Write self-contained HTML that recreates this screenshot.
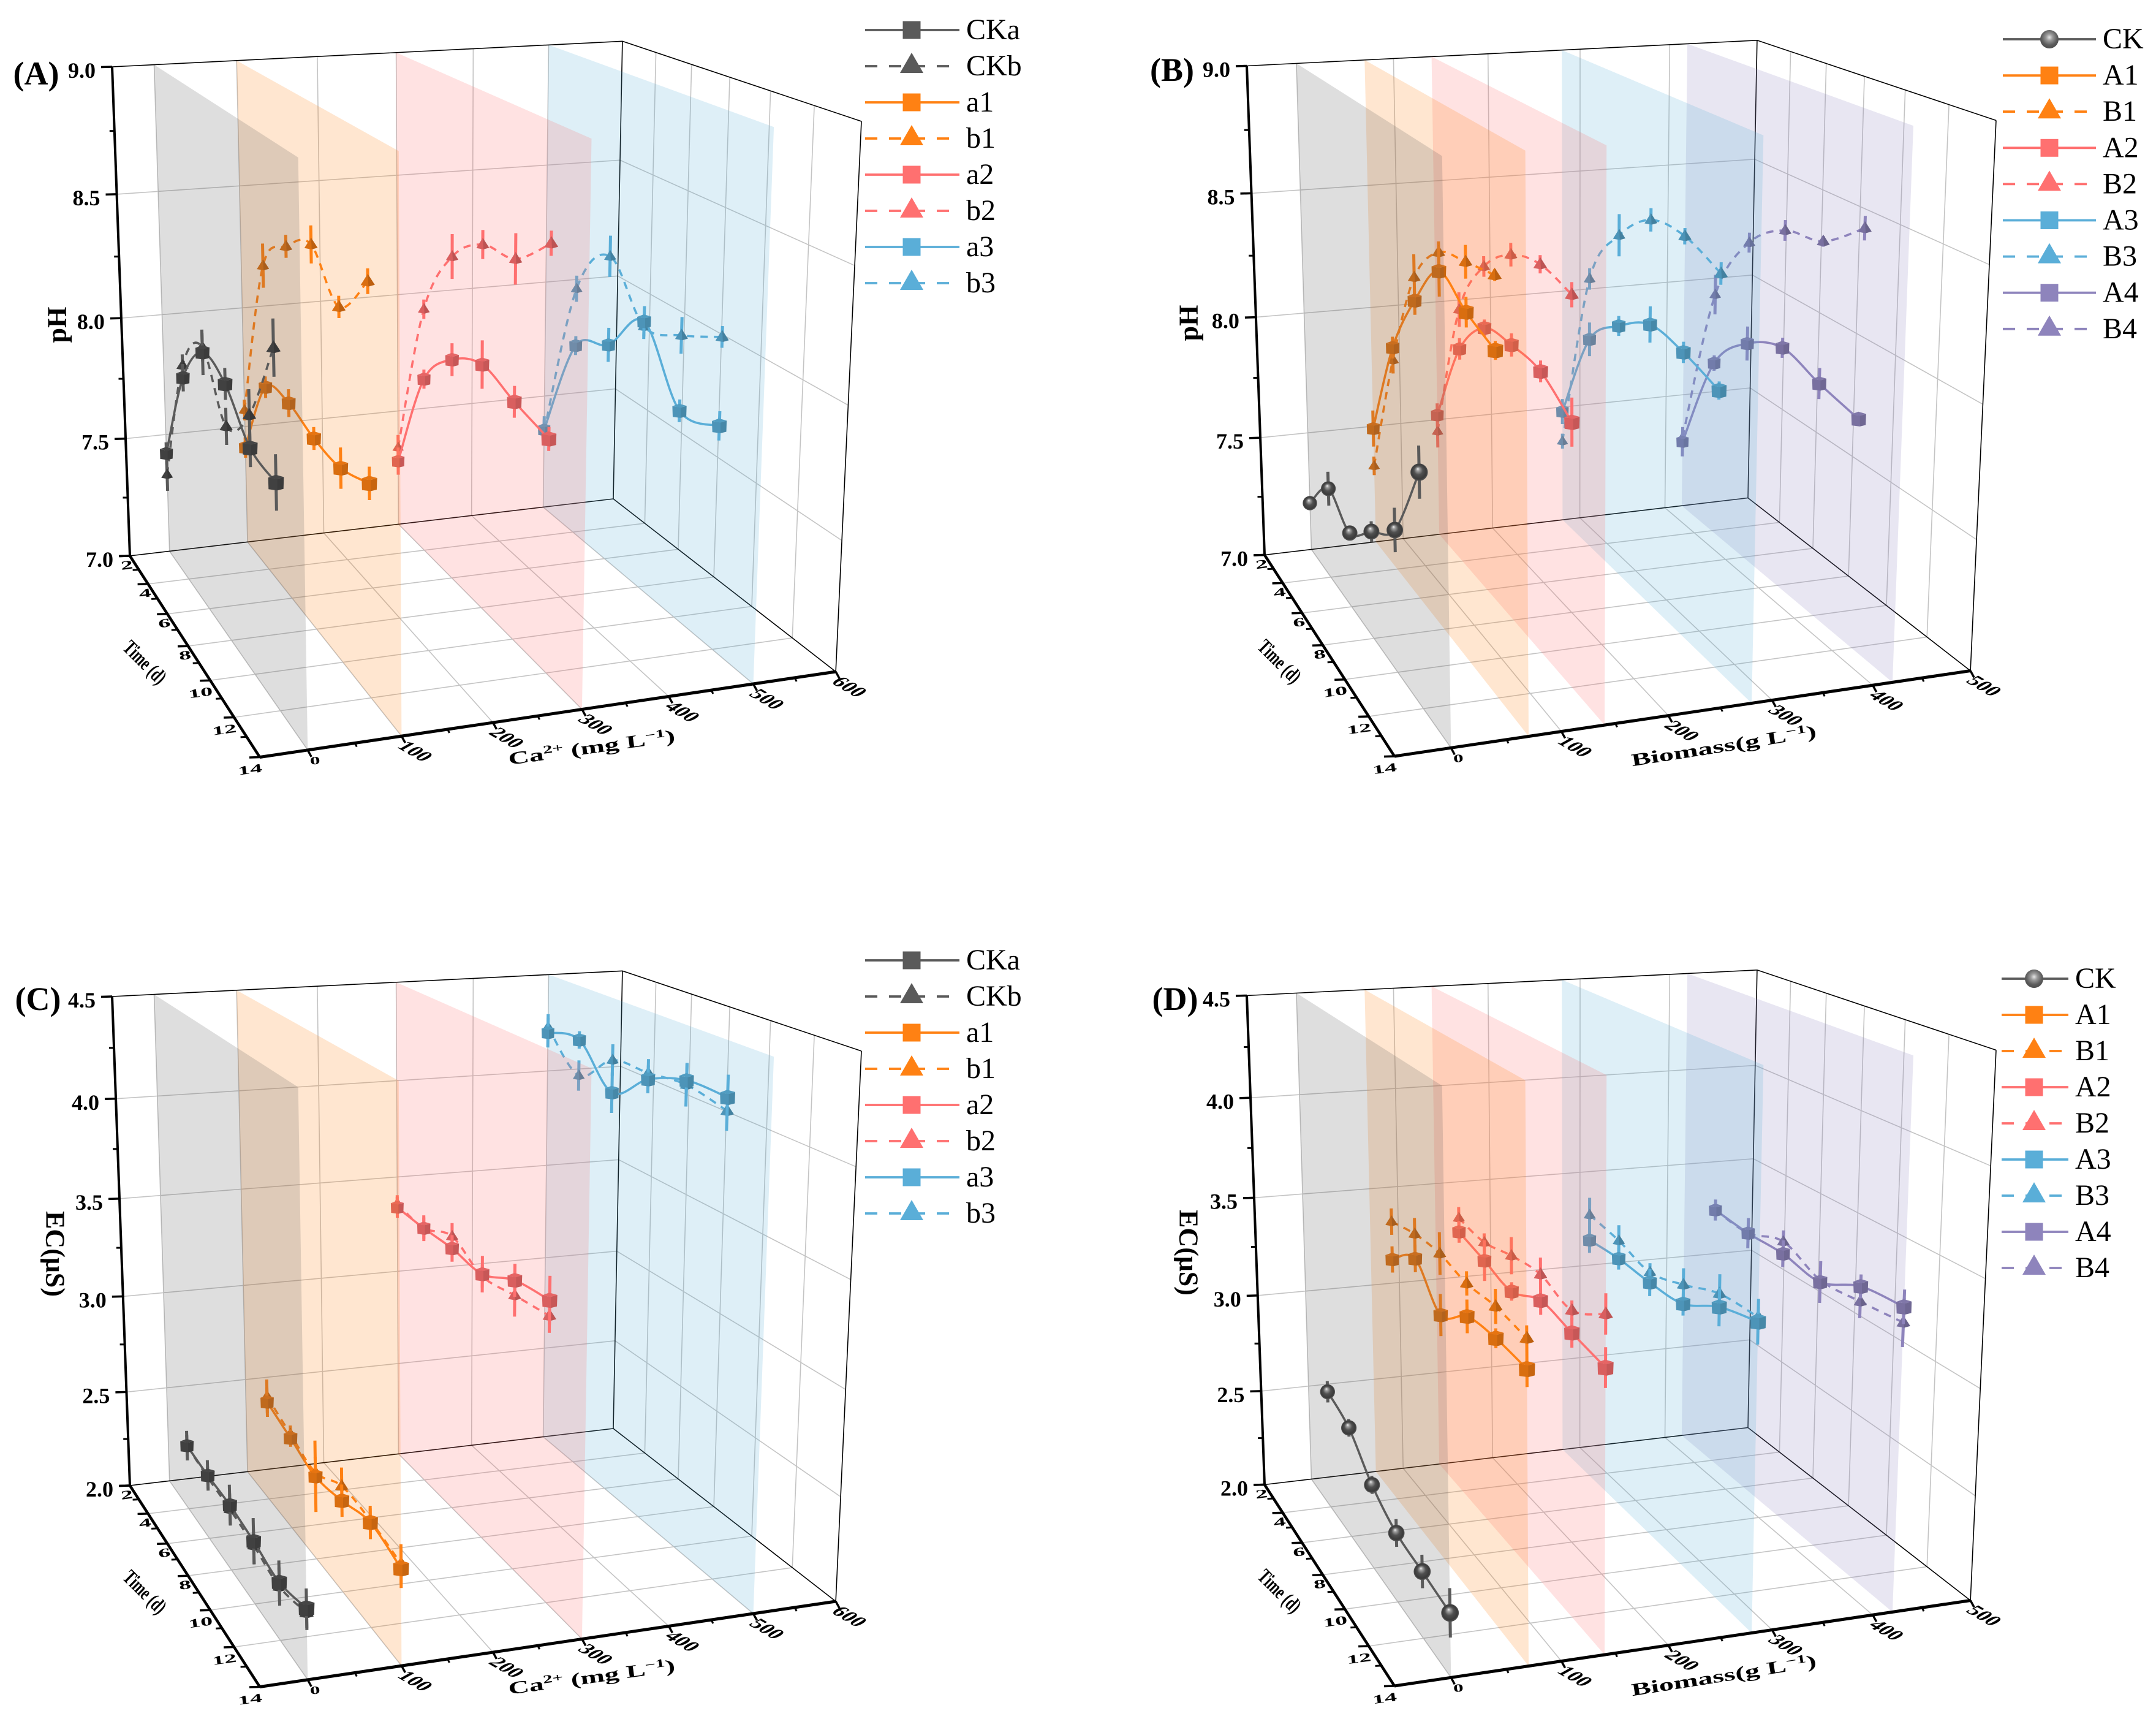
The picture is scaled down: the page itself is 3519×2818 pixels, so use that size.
<!DOCTYPE html>
<html lang="en">
<head>
<meta charset="utf-8">
<title>pH and EC 3D charts</title>
<style>
html,body{margin:0;padding:0;background:#fff;}
svg{display:block;font-family:"Liberation Serif",serif;}
</style>
</head>
<body>
<svg id="figure" xmlns="http://www.w3.org/2000/svg" width="3519" height="2818" viewBox="0 0 3519 2818">
<defs>
<radialGradient id="sphere" cx="0.5" cy="0.5" r="0.5" fx="0.42" fy="0.3">
<stop offset="0" stop-color="#f4f4f4"/><stop offset="0.18" stop-color="#a2a2a2"/><stop offset="0.5" stop-color="#505050"/><stop offset="0.85" stop-color="#3a3a3a"/><stop offset="1" stop-color="#565656"/>
</radialGradient>
<radialGradient id="sphere-legend" cx="0.5" cy="0.4" r="0.6">
<stop offset="0" stop-color="#e6e6e6"/><stop offset="0.3" stop-color="#9a9a9a"/><stop offset="0.7" stop-color="#5e5e5e"/><stop offset="1" stop-color="#4c4c4c"/>
</radialGradient>
</defs>
</svg>
<script>
// ---------- axis ticks and categories ----------
const timesPH = [2, 4, 6, 8, 10, 12];
const timesEC = [4, 6, 8, 10, 12, 14];
const timeTicks = [2, 4, 6, 8, 10, 12, 14];
const caTicks = [0, 100, 200, 300, 400, 500, 600];
const bioTicks = [0, 100, 200, 300, 400, 500];
const phTicks = [7.0, 7.5, 8.0, 8.5, 9.0];
const ecTicks = [2.0, 2.5, 3.0, 3.5, 4.0, 4.5];

// ---------- panel A: pH against Ca2+ ----------
const aCKa = [7.42, 7.83, 8.02, 7.99, 7.85, 7.83];
const aCKaErr = [0.047, 0.055, 0.088, 0.06, 0.07, 0.10];
const aCKb = [7.33, 7.88, 8.04, 7.83, 7.97, 8.30];
const aCKbErr = [0.07, 0.044, 0.055, 0.07, 0.094, 0.10];
const a_a1 = [7.41, 7.76, 7.79, 7.75, 7.74, 7.79];
const a_a1Err = [0.044, 0.044, 0.055, 0.044, 0.077, 0.06];
const a_b1 = [7.57, 8.25, 8.40, 8.48, 8.33, 8.50];
const a_b1Err = [0.044, 0.088, 0.044, 0.07, 0.04, 0.044];
const a_a2 = [7.28, 7.73, 7.90, 7.97, 7.92, 7.88];
const a_a2Err = [0.06, 0.04, 0.066, 0.094, 0.06, 0.044];
const a_b2 = [7.34, 8.02, 8.31, 8.43, 8.45, 8.58];
const a_b2Err = [0.055, 0.04, 0.088, 0.055, 0.094, 0.044];
const a_a3 = [7.35, 7.81, 7.90, 8.08, 7.82, 7.86];
const a_a3Err = [0.06, 0.04, 0.07, 0.06, 0.044, 0.055];
const a_b3 = [7.34, 8.05, 8.26, 8.06, 8.11, 8.19];
const a_b3Err = [0.055, 0.055, 0.083, 0.05, 0.07, 0.04];

// ---------- panel B: pH against biomass ----------
const bCK = [7.20, 7.37, 7.30, 7.42, 7.54, 7.86];
const bCKErr = [0.03, 0.07, 0.02, 0.04, 0.083, 0.094];
const bA1 = [7.49, 7.92, 8.19, 8.38, 8.31, 8.26];
const bA1Err = [0.077, 0.044, 0.055, 0.094, 0.055, 0.033];
const bB1 = [7.33, 7.87, 8.28, 8.45, 8.49, 8.52];
const bB1Err = [0.04, 0.055, 0.088, 0.04, 0.06, 0.02];
const bA2 = [7.52, 7.89, 8.06, 8.08, 8.07, 7.98];
const bA2Err = [0.05, 0.044, 0.033, 0.044, 0.04, 0.088];
const bB2 = [7.45, 8.05, 8.30, 8.42, 8.46, 8.43];
const bB2Err = [0.07, 0.07, 0.04, 0.044, 0.033, 0.044];
const bA3 = [7.48, 7.88, 8.02, 8.11, 8.09, 8.04];
const bA3Err = [0.055, 0.07, 0.04, 0.07, 0.04, 0.033];
const bB3 = [7.35, 8.13, 8.38, 8.51, 8.52, 8.46];
const bB3Err = [0.033, 0.044, 0.083, 0.044, 0.03, 0.04];
const bA4 = [7.29, 7.73, 7.90, 7.97, 7.92, 7.88];
const bA4Err = [0.066, 0.033, 0.07, 0.04, 0.06, 0.02];
const bB4 = [7.31, 8.02, 8.31, 8.43, 8.46, 8.58];
const bB4Err = [0.02, 0.083, 0.04, 0.04, 0.02, 0.044];

// ---------- panel C: EC against Ca2+ ----------
const cCKa = [2.33, 2.32, 2.32, 2.30, 2.27, 2.32];
const cCKaErr = [0.077, 0.077, 0.10, 0.11, 0.10, 0.088];
const cCKb = [2.33, 2.31, 2.30, 2.28, 2.25, 2.30];
const cCKbErr = [0.055, 0.055, 0.077, 0.088, 0.088, 0.077];
const c_a1 = [2.51, 2.46, 2.41, 2.44, 2.49, 2.44];
const c_a1Err = [0.077, 0.044, 0.176, 0.077, 0.077, 0.088];
const c_b1 = [2.54, 2.48, 2.43, 2.51, 2.50, 2.46];
const c_b1Err = [0.088, 0.044, 0.077, 0.088, 0.055, 0.088];
const c_a2 = [3.34, 3.33, 3.33, 3.31, 3.39, 3.41];
const c_a2Err = [0.055, 0.066, 0.066, 0.088, 0.077, 0.11];
const c_b2 = [3.36, 3.33, 3.39, 3.30, 3.32, 3.34];
const c_b2Err = [0.044, 0.055, 0.066, 0.055, 0.10, 0.077];
const c_a3 = [4.20, 4.23, 4.04, 4.18, 4.25, 4.25];
const c_a3Err = [0.077, 0.044, 0.10, 0.066, 0.077, 0.10];
const c_b3 = [4.23, 4.05, 4.20, 4.21, 4.23, 4.19];
const c_b3Err = [0.066, 0.077, 0.077, 0.066, 0.10, 0.088];

// ---------- panel D: EC against biomass ----------
const dCK = [2.60, 2.55, 2.41, 2.33, 2.31, 2.29];
const dCKErr = [0.055, 0.044, 0.044, 0.066, 0.077, 0.11];
const dA1 = [3.24, 3.35, 3.19, 3.30, 3.32, 3.31];
const dA1Err = [0.066, 0.066, 0.10, 0.077, 0.044, 0.077];
const dB1 = [3.43, 3.47, 3.48, 3.45, 3.46, 3.44];
const dB1Err = [0.066, 0.077, 0.10, 0.055, 0.077, 0.055];
const dA2 = [3.35, 3.31, 3.27, 3.34, 3.31, 3.28];
const dA2Err = [0.055, 0.10, 0.044, 0.066, 0.066, 0.088];
const dB2 = [3.42, 3.40, 3.44, 3.46, 3.41, 3.51];
const dB2Err = [0.055, 0.044, 0.088, 0.077, 0.044, 0.088];
const dA3 = [3.25, 3.26, 3.25, 3.26, 3.36, 3.41];
const dA3Err = [0.066, 0.055, 0.066, 0.055, 0.088, 0.10];
const dB3 = [3.38, 3.35, 3.30, 3.35, 3.42, 3.43];
const dB3Err = [0.088, 0.077, 0.044, 0.077, 0.088, 0.044];
const dA4 = [3.35, 3.33, 3.33, 3.30, 3.39, 3.41];
const dA4Err = [0.055, 0.077, 0.066, 0.10, 0.055, 0.077];
const dB4 = [3.35, 3.33, 3.39, 3.31, 3.32, 3.34];
const dB4Err = [0.033, 0.044, 0.055, 0.044, 0.077, 0.11];

// ---------- plane levels ----------
const caPlanes = [500, 300, 100, 0];
const bioPlanes = [420, 280, 140, 70, 0];

const GRAY = '#5a5a5a', ORANGE = '#ff8113', PINK = '#ff7070', BLUE = '#5aaed8', PURPLE = '#8e84bc';
const NS = 'http://www.w3.org/2000/svg';
const root = document.getElementById('figure');

function mk(parent, tag, attrs, text) {
  const e = document.createElementNS(NS, tag);
  for (const k in attrs) e.setAttribute(k, attrs[k]);
  if (text !== undefined) e.textContent = text;
  parent.appendChild(e);
  return e;
}
function shade(hex, f) {
  const n = parseInt(hex.slice(1), 16);
  const c = [(n >> 16) & 255, (n >> 8) & 255, n & 255].map(v => Math.round(v * f));
  return 'rgb(' + c.join(',') + ')';
}
function pts(list) { return list.map(p => p[0].toFixed(1) + ',' + p[1].toFixed(1)).join(' '); }

function makeProjection(dx, dy, xMin, xMax, yMin, yMax) {
  const f = function (x, t, y) {
    const u = (x - xMin) / (xMax - xMin), v = (t - 2) / 12, w = (y - yMin) / (yMax - yMin);
    const D = 1 + 0.0717 * u - 0.1884 * v - 0.054 * w;
    return [dx + (212 + 860.8 * u + 132.1 * v - 38.9 * w) / D,
            dy + (907 - 34.6 * u + 95.7 * v - 803.9 * w) / D, D];
  };
  return f;
}
function splinePath(p) {
  let d = 'M' + p[0][0].toFixed(1) + ' ' + p[0][1].toFixed(1);
  for (let i = 0; i < p.length - 1; i++) {
    const p0 = p[Math.max(i - 1, 0)], p1 = p[i], p2 = p[i + 1], p3 = p[Math.min(i + 2, p.length - 1)];
    const c1x = p1[0] + (p2[0] - p0[0]) / 6, c1y = p1[1] + (p2[1] - p0[1]) / 6;
    const c2x = p2[0] - (p3[0] - p1[0]) / 6, c2y = p2[1] - (p3[1] - p1[1]) / 6;
    d += 'C' + c1x.toFixed(1) + ' ' + c1y.toFixed(1) + ' ' + c2x.toFixed(1) + ' ' + c2y.toFixed(1) + ' ' + p2[0].toFixed(1) + ' ' + p2[1].toFixed(1);
  }
  return d;
}
function drawCube(g, c, color, D, name) {
  const h = 10.6 / D, x = c[0], y = c[1];
  const isGray = color === GRAY;
  const group = mk(g, 'g', {});
  
  
  mk(group, 'polygon', { points: pts([[x - h, y - 0.65 * h], [x + 0.15 * h, y - 0.45 * h], [x + 0.15 * h, y + h], [x - 0.95 * h, y + 0.85 * h]]), fill: shade(color, isGray ? 0.72 : 0.85) });
  mk(group, 'polygon', { points: pts([[x + 0.15 * h, y - 0.45 * h], [x + h, y - 0.7 * h], [x + 0.95 * h, y + 0.8 * h], [x + 0.15 * h, y + h]]), fill: shade(color, isGray ? 0.65 : 0.78) });
  mk(group, 'polygon', { points: pts([[x - h, y - 0.65 * h], [x - 0.05 * h, y - h], [x + h, y - 0.7 * h], [x + 0.15 * h, y - 0.45 * h]]), fill: shade(color, isGray ? 0.78 : 0.9) });
}
function drawCone(g, c, color, D, name) {
  const h = 9.5 / D, x = c[0], y = c[1];
  const isGray = color === GRAY;
  const group = mk(g, 'g', {});
  
  
  mk(group, 'polygon', { points: pts([[x, y - 1.05 * h], [x - h, y + 0.55 * h], [x + 0.1 * h, y + 0.75 * h]]), fill: shade(color, isGray ? 0.72 : 0.85) });
  mk(group, 'polygon', { points: pts([[x, y - 1.05 * h], [x + 0.1 * h, y + 0.75 * h], [x + h, y + 0.5 * h]]), fill: shade(color, isGray ? 0.6 : 0.74) });
}
function drawSphere(g, c, D, name) {
  const s = mk(g, 'circle', { cx: c[0].toFixed(1), cy: c[1].toFixed(1), r: (11.7 / D).toFixed(1), fill: 'url(#sphere)' });
  
  
}

function drawSeries(g, P, cfg, xVal, s) {
  const group = mk(g, 'g', {});
  
  
  const times = s.times || cfg.times;
  const centers = times.map((t, i) => P(xVal, t, s.vals[i]));
  // error bars
  times.forEach((t, i) => {
    const lo = P(xVal, t, s.vals[i] - s.errs[i]), hi = P(xVal, t, s.vals[i] + s.errs[i]);
    const bar = mk(group, 'line', { x1: lo[0].toFixed(1), y1: lo[1].toFixed(1), x2: hi[0].toFixed(1), y2: hi[1].toFixed(1), stroke: s.color, 'stroke-width': 5 });
    
    
  });
  // smooth line
  const line = mk(group, 'path', { d: splinePath(centers), fill: 'none', stroke: s.color, 'stroke-width': 3.6 });
  if (s.shape === 'cone') line.setAttribute('stroke-dasharray', '12 10');
  
  
  // markers
  centers.forEach(c => {
    if (s.shape === 'cube') drawCube(group, c, s.color, c[2], 'marker-' + s.name);
    else if (s.shape === 'cone') drawCone(group, c, s.color, c[2], 'marker-' + s.name);
    else drawSphere(group, c, c[2], 'marker-' + s.name);
  });
}

function drawPanel(cfg) {
  const P = makeProjection(cfg.dx, cfg.dy, cfg.xMin, cfg.xMax, cfg.yMin, cfg.yMax);
  const g = mk(root, 'g', {});
  
  
  const xL = cfg.xMin, xR = cfg.xMax, yB = cfg.yMin, yT = cfg.yMax;
  const seg = (parent, a, b, stroke, width, name) => {
    const l = mk(parent, 'line', { x1: a[0].toFixed(1), y1: a[1].toFixed(1), x2: b[0].toFixed(1), y2: b[1].toFixed(1), stroke: stroke, 'stroke-width': width });
    
    
    return l;
  };
  // gridlines
  const gridColor = '#c4c4c4';
  cfg.xTicks.forEach(x => {
    if (x === xR) return;
    seg(g, P(x, 2, yB), P(x, 14, yB), gridColor, 1.6, 'floor-gridline-x');
    seg(g, P(x, 2, yB), P(x, 2, yT), gridColor, 1.6, 'back-wall-gridline-x');
  });
  timeTicks.forEach(t => {
    if (t === 2 || t === 14) return;
    seg(g, P(xL, t, yB), P(xR, t, yB), gridColor, 1.6, 'floor-gridline-time');
    seg(g, P(xR, t, yB), P(xR, t, yT), gridColor, 1.6, 'right-wall-gridline-time');
  });
  cfg.yTicks.forEach(y => {
    if (y === yB || y === yT) return;
    seg(g, P(xL, 2, y), P(xR, 2, y), gridColor, 1.6, 'back-wall-gridline-y');
    seg(g, P(xR, 2, y), P(xR, 14, y), gridColor, 1.6, 'right-wall-gridline-y');
  });
  // box edges
  [[P(xL, 2, yT), P(xR, 2, yT)], [P(xR, 2, yT), P(xR, 14, yT)], [P(xR, 2, yB), P(xR, 2, yT)],
   [P(xR, 14, yB), P(xR, 14, yT)], [P(xL, 2, yB), P(xR, 2, yB)], [P(xR, 2, yB), P(xR, 14, yB)]].forEach(e => {
    seg(g, e[0], e[1], '#000', 1.6, 'box-edge');
  });
  // planes with their series, far to near
  cfg.layers.forEach(layer => {
    const poly = mk(g, 'polygon', {
      points: pts([P(layer.x, 2, yB), P(layer.x, 14, yB), P(layer.x, 14, yT), P(layer.x, 2, yT)]),
      fill: layer.color, 'fill-opacity': 0.2
    });
    
    
    layer.series.forEach(s => drawSeries(g, P, cfg, layer.x, s));
  });
  // y axis
  seg(g, P(xL, 2, yB), P(xL, 2, yT), '#000', 4, 'y-axis-line');
  const step = cfg.yTicks[1] - cfg.yTicks[0];
  cfg.yTicks.forEach((y, i) => {
    const p = P(xL, 2, y);
    seg(g, p, [p[0] - 18, p[1] + 0.5], '#000', 3.5, 'y-axis-tick');
    const label = mk(g, 'text', { x: (p[0] - 27).toFixed(1), y: (p[1] + 18).toFixed(1), 'text-anchor': 'end', 'font-size': 36, 'font-weight': 'bold', fill: '#000' }, y.toFixed(1));
    
    
    if (i < cfg.yTicks.length - 1) {
      const q = P(xL, 2, y + step / 2);
      seg(g, q, [q[0] - 8, q[1]], '#000', 3, 'y-axis-minor-tick');
    }
  });
  // time axis
  seg(g, P(xL, 2, yB), P(xL, 14, yB), '#000', 4.5, 'time-axis-line');
  timeTicks.forEach((t, i) => {
    const p = P(xL, t, yB);
    seg(g, p, [p[0] - 17, p[1] + 0.5], '#000', 3.5, 'time-axis-tick');
    const two = t >= 10;
    const label = mk(g, 'text', {
      transform: 'translate(' + (p[0] + (two ? -16 : -5)).toFixed(1) + ' ' + (p[1] + (two ? 20 : 15)).toFixed(1) + ') rotate(-8) scale(1 .5)',
      'text-anchor': 'middle', 'dominant-baseline': 'central', 'font-size': 40, 'font-weight': 'bold', fill: '#000'
    }, String(t));
    
    
    if (i < timeTicks.length - 1) {
      const q = P(xL, t + 1, yB);
      seg(g, q, [q[0] - 10, q[1] + 0.5], '#000', 3, 'time-axis-minor-tick');
    }
  });
  // x axis
  seg(g, P(xL, 14, yB), P(xR, 14, yB), '#000', 5, 'x-axis-line');
  cfg.xTicks.forEach((x, i) => {
    const p = P(x, 14, yB);
    seg(g, p, [p[0] + 6, p[1] + 11], '#000', 3.5, 'x-axis-tick');
    const small = x === 0;
    const tx = (p[0] + (small ? 12 : 22)).toFixed(1), ty = (p[1] + (small ? 17 : 25)).toFixed(1);
    const label = mk(g, 'text', {
      transform: small ? 'translate(' + tx + ' ' + ty + ') rotate(-6) scale(1 .55)' : 'matrix(.87 .505 -.9 .5 ' + tx + ' ' + ty + ')',
      'text-anchor': 'middle', 'dominant-baseline': 'central', 'font-size': 33, 'font-weight': 'bold', fill: '#000'
    }, String(x));
    
    
    if (i < cfg.xTicks.length - 1) {
      const q = P(x + 50, 14, yB);
      seg(g, q, [q[0] + 3, q[1] + 6], '#000', 3, 'x-axis-minor-tick');
    }
  });
  // titles
  const yTitle = mk(g, 'text', {
    transform: 'translate(' + cfg.yTitle.x + ' ' + cfg.yTitle.y + ') rotate(' + cfg.yTitle.rot + ')',
    'text-anchor': 'middle', 'dominant-baseline': 'central', 'font-size': 44, 'font-weight': 'bold', fill: '#000'
  }, cfg.yTitle.text);
  
  

  const tTitle = mk(g, 'text', {
    transform: 'translate(' + (cfg.dx + 236) + ' ' + (cfg.dy + 1081) + ') rotate(45) scale(.92 1.35)',
    'text-anchor': 'middle', 'dominant-baseline': 'central', 'font-size': 25, 'font-weight': 'bold', fill: '#000'
  }, 'Time (d)');
  
  

  const xTitle = mk(g, 'text', {
    transform: 'translate(' + (cfg.dx + cfg.xTitle.x) + ' ' + (cfg.dy + cfg.xTitle.y) + ') rotate(' + cfg.xTitle.rot + ') scale(' + cfg.xTitle.sx + ' .85)',
    'text-anchor': 'middle', 'font-size': 34, 'font-weight': 'bold', fill: '#000'
  });
  
  
  mk(xTitle, 'tspan', {}, cfg.xTitle.before);
  if (cfg.xTitle.sup1) {
    mk(xTitle, 'tspan', { dy: -12, 'font-size': 22 }, cfg.xTitle.sup1);
    mk(xTitle, 'tspan', { dy: 12 }, cfg.xTitle.mid);
  }
  mk(xTitle, 'tspan', { dy: -12, 'font-size': 22 }, '\u22121');
  mk(xTitle, 'tspan', { dy: 12 }, ')');

  const letter = mk(g, 'text', { x: cfg.letter.x, y: cfg.letter.y, 'text-anchor': 'middle', 'dominant-baseline': 'central', 'font-size': 54, 'font-weight': 'bold', fill: '#000' }, cfg.letter.text);
  
  

  // legend
  const lg = mk(g, 'g', {});
  
  
  cfg.legend.entries.forEach((s, i) => {
    const y = cfg.legend.y + i * cfg.legend.step;
    const e = mk(lg, 'g', {});
    
    
    const line = mk(e, 'line', { x1: cfg.legend.x1, y1: y, x2: cfg.legend.x2, y2: y, stroke: s.color, 'stroke-width': 3.8 });
    if (s.shape === 'cone') line.setAttribute('stroke-dasharray', '20 19');
    const mx = cfg.legend.mx;
    if (s.shape === 'cube') mk(e, 'rect', { x: mx - 14.5, y: y - 14.5, width: 29, height: 29, fill: s.color });
    else if (s.shape === 'cone') mk(e, 'polygon', { points: pts([[mx, y - 22], [mx - 19, y + 11], [mx + 19, y + 11]]), fill: s.color });
    else mk(e, 'circle', { cx: mx, cy: y, r: 15, fill: 'url(#sphere-legend)' });
    mk(e, 'text', { x: cfg.legend.tx, y: y + 15, 'font-size': 48, fill: '#000' }, s.name);
  });
}

function S(name, vals, errs, color, shape, times) { return { name: name, vals: vals, errs: errs, color: color, shape: shape, times: times }; }

// panel A
const sA = {
  CKa: S('CKa', aCKa, aCKaErr, GRAY, 'cube'), CKb: S('CKb', aCKb, aCKbErr, GRAY, 'cone'),
  a1: S('a1', a_a1, a_a1Err, ORANGE, 'cube'), b1: S('b1', a_b1, a_b1Err, ORANGE, 'cone'),
  a2: S('a2', a_a2, a_a2Err, PINK, 'cube'), b2: S('b2', a_b2, a_b2Err, PINK, 'cone'),
  a3: S('a3', a_a3, a_a3Err, BLUE, 'cube'), b3: S('b3', a_b3, a_b3Err, BLUE, 'cone')
};
drawPanel({
  id: 'A', dx: 0, dy: 0, xMin: -50, xMax: 600, yMin: 7, yMax: 9, times: timesPH, xTicks: caTicks, yTicks: phTicks,
  layers: [
    { x: caPlanes[0], color: BLUE, series: [sA.b3, sA.a3] },
    { x: caPlanes[1], color: PINK, series: [sA.b2, sA.a2] },
    { x: caPlanes[2], color: ORANGE, series: [sA.b1, sA.a1] },
    { x: caPlanes[3], color: GRAY, series: [sA.CKb, sA.CKa] }
  ],
  yTitle: { text: 'pH', x: 93, y: 530, rot: -90 },
  xTitle: { before: 'Ca', sup1: '2+', mid: ' (mg L', x: 967, y: 1229, rot: -8, sx: 1.4 },
  letter: { text: '(A)', x: 59, y: 120 },
  legend: { x1: 1412, x2: 1566, mx: 1488, tx: 1577, y: 49, step: 59, entries: [sA.CKa, sA.CKb, sA.a1, sA.b1, sA.a2, sA.b2, sA.a3, sA.b3] }
});

// panel B
const sB = {
  CK: S('CK', bCK, bCKErr, GRAY, 'sphere'),
  A1: S('A1', bA1, bA1Err, ORANGE, 'cube'), B1: S('B1', bB1, bB1Err, ORANGE, 'cone'),
  A2: S('A2', bA2, bA2Err, PINK, 'cube'), B2: S('B2', bB2, bB2Err, PINK, 'cone'),
  A3: S('A3', bA3, bA3Err, BLUE, 'cube'), B3: S('B3', bB3, bB3Err, BLUE, 'cone'),
  A4: S('A4', bA4, bA4Err, PURPLE, 'cube'), B4: S('B4', bB4, bB4Err, PURPLE, 'cone')
};
drawPanel({
  id: 'B', dx: 1852, dy: -1.5, xMin: -50, xMax: 500, yMin: 7, yMax: 9, times: timesPH, xTicks: bioTicks, yTicks: phTicks,
  layers: [
    { x: bioPlanes[0], color: PURPLE, series: [sB.B4, sB.A4] },
    { x: bioPlanes[1], color: BLUE, series: [sB.B3, sB.A3] },
    { x: bioPlanes[2], color: PINK, series: [sB.B2, sB.A2] },
    { x: bioPlanes[3], color: ORANGE, series: [sB.B1, sB.A1] },
    { x: bioPlanes[4], color: GRAY, series: [sB.CK] }
  ],
  yTitle: { text: 'pH', x: 1940, y: 527, rot: -90 },
  xTitle: { before: 'Biomass(g L', x: 963, y: 1228, rot: -9, sx: 1.42 },
  letter: { text: '(B)', x: 1913, y: 114 },
  legend: { x1: 3269, x2: 3421, mx: 3345, tx: 3432, y: 64, step: 59.1, entries: [sB.CK, sB.A1, sB.B1, sB.A2, sB.B2, sB.A3, sB.B3, sB.A4, sB.B4] }
});

// panel C
const sC = {
  CKa: S('CKa', cCKa, cCKaErr, GRAY, 'cube'), CKb: S('CKb', cCKb, cCKbErr, GRAY, 'cone'),
  a1: S('a1', c_a1, c_a1Err, ORANGE, 'cube'), b1: S('b1', c_b1, c_b1Err, ORANGE, 'cone'),
  a2: S('a2', c_a2, c_a2Err, PINK, 'cube', timesPH), b2: S('b2', c_b2, c_b2Err, PINK, 'cone', timesPH),
  a3: S('a3', c_a3, c_a3Err, BLUE, 'cube', timesPH), b3: S('b3', c_b3, c_b3Err, BLUE, 'cone', timesPH)
};
drawPanel({
  id: 'C', dx: 0, dy: 1517, xMin: -50, xMax: 600, yMin: 2, yMax: 4.5, times: timesEC, xTicks: caTicks, yTicks: ecTicks,
  layers: [
    { x: caPlanes[0], color: BLUE, series: [sC.b3, sC.a3] },
    { x: caPlanes[1], color: PINK, series: [sC.b2, sC.a2] },
    { x: caPlanes[2], color: ORANGE, series: [sC.b1, sC.a1] },
    { x: caPlanes[3], color: GRAY, series: [sC.CKb, sC.CKa] }
  ],
  yTitle: { text: 'EC(\u03bcS)', x: 90, y: 2046, rot: 90 },
  xTitle: { before: 'Ca', sup1: '2+', mid: ' (mg L', x: 967, y: 1229, rot: -8, sx: 1.4 },
  letter: { text: '(C)', x: 62, y: 1630 },
  legend: { x1: 1412, x2: 1566, mx: 1488, tx: 1577, y: 1567, step: 59, entries: [sC.CKa, sC.CKb, sC.a1, sC.b1, sC.a2, sC.b2, sC.a3, sC.b3] }
});

// panel D
const sD = {
  CK: S('CK', dCK, dCKErr, GRAY, 'sphere'),
  A1: S('A1', dA1, dA1Err, ORANGE, 'cube'), B1: S('B1', dB1, dB1Err, ORANGE, 'cone'),
  A2: S('A2', dA2, dA2Err, PINK, 'cube'), B2: S('B2', dB2, dB2Err, PINK, 'cone'),
  A3: S('A3', dA3, dA3Err, BLUE, 'cube'), B3: S('B3', dB3, dB3Err, BLUE, 'cone'),
  A4: S('A4', dA4, dA4Err, PURPLE, 'cube'), B4: S('B4', dB4, dB4Err, PURPLE, 'cone')
};
drawPanel({
  id: 'D', dx: 1852, dy: 1515.5, xMin: -50, xMax: 500, yMin: 2, yMax: 4.5, times: timesEC, xTicks: bioTicks, yTicks: ecTicks,
  layers: [
    { x: bioPlanes[0], color: PURPLE, series: [sD.B4, sD.A4] },
    { x: bioPlanes[1], color: BLUE, series: [sD.B3, sD.A3] },
    { x: bioPlanes[2], color: PINK, series: [sD.B2, sD.A2] },
    { x: bioPlanes[3], color: ORANGE, series: [sD.B1, sD.A1] },
    { x: bioPlanes[4], color: GRAY, series: [sD.CK] }
  ],
  yTitle: { text: 'EC(\u03bcS)', x: 1940, y: 2044, rot: 90 },
  xTitle: { before: 'Biomass(g L', x: 963, y: 1228, rot: -9, sx: 1.42 },
  letter: { text: '(D)', x: 1918, y: 1630 },
  legend: { x1: 3267, x2: 3376, mx: 3320, tx: 3387, y: 1597, step: 59, entries: [sD.CK, sD.A1, sD.B1, sD.A2, sD.B2, sD.A3, sD.B3, sD.A4, sD.B4] }
});
</script>
</body>
</html>
